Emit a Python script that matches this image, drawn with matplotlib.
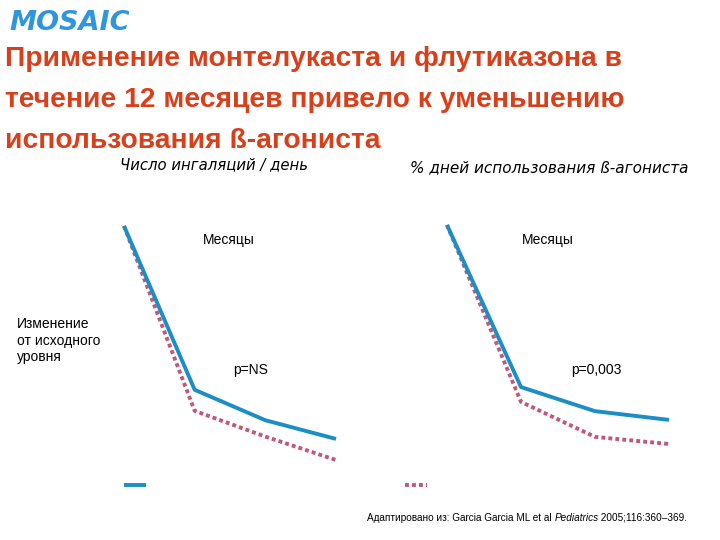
import matplotlib
matplotlib.use("Agg")
import matplotlib.pyplot as plt
from matplotlib.lines import Line2D

# months as plotted (equal steps)
months = [0, 1, 2, 3]

# change from baseline, inhalations per day
inh_montelukast = [0.0, -0.70, -0.83, -0.91]
inh_fluticasone = [0.0, -0.79, -0.90, -1.00]

# change from baseline, % days with beta-agonist use
days_montelukast = [0.0, -29.6, -34.0, -35.6]
days_fluticasone = [0.0, -32.3, -38.7, -40.0]

title = ("Применение монтелукаста и флутиказона в\n"
         "течение 12 месяцев привело к уменьшению\n"
         "использования ß-агониста")

BLUE = "#1b8ec4"
ROSE = "#c0587a"
TITLE_RED = "#d8401c"
LW = 2.8

W, H = 720, 540
fig = plt.figure(figsize=(7.2, 5.4), dpi=100)


def px_axes(x0, y0, x1, y1):
    # axes box from pixel corners (top-left origin)
    return fig.add_axes([x0 / W, 1 - y1 / H, (x1 - x0) / W, (y1 - y0) / H])


def bare(ax):
    for s in ax.spines.values():
        s.set_visible(False)
    ax.set_xticks([])
    ax.set_yticks([])
    ax.patch.set_alpha(0)


ax1 = px_axes(124, 226, 336, 460)
ax1.plot(months, inh_montelukast, color=BLUE, lw=LW, clip_on=False,
         solid_capstyle="butt", zorder=3)
ax1.plot(months, inh_fluticasone, color=ROSE, lw=LW, ls=(0, (1, 0.8)),
         clip_on=False, zorder=2)
ax1.set_xlim(0, 3)
ax1.set_ylim(-1.0, 0)
bare(ax1)

ax2 = px_axes(447, 225, 669, 444)
ax2.plot(months, days_montelukast, color=BLUE, lw=LW, clip_on=False,
         solid_capstyle="butt", zorder=3)
ax2.plot(months, days_fluticasone, color=ROSE, lw=LW, ls=(0, (1, 0.8)),
         clip_on=False, zorder=2)
ax2.set_xlim(0, 3)
ax2.set_ylim(-40, 0)
bare(ax2)

sans = "Liberation Sans"

# logo
fig.text(9 / W, 1 - 23 / H, "MOSAIC", color="#2f95dc", fontsize=19.5,
         fontweight="heavy", fontstyle="italic", family="DejaVu Sans",
         va="center", ha="left")

fig.text(5 / W, 1 - 46 / H, title, color=TITLE_RED, fontsize=20.3,
         fontweight="bold", family=sans, va="top", ha="left", linespacing=1.76)

fig.text(120 / W, 1 - 165 / H, "Число ингаляций / день", fontsize=10.7,
         fontstyle="italic", family="DejaVu Sans", va="center", ha="left")
fig.text(410 / W, 1 - 168 / H, "% дней использования ß-агониста", fontsize=11,
         fontstyle="italic", family="DejaVu Sans", va="center", ha="left")

fig.text(229 / W, 1 - 240 / H, "Месяцы", fontsize=10, family=sans,
         ha="center", va="center")
fig.text(548 / W, 1 - 240 / H, "Месяцы", fontsize=10, family=sans,
         ha="center", va="center")
fig.text(251 / W, 1 - 370 / H, "p=NS", fontsize=10, family=sans,
         ha="center", va="center")
fig.text(596 / W, 1 - 370 / H, "p=0,003", fontsize=10, family=sans,
         ha="center", va="center")

fig.text(17 / W, 1 - 317 / H, "Изменение\nот исходного\nуровня", fontsize=10,
         family=sans, ha="left", va="top", linespacing=1.25)

# legend swatches (labels are absent on the slide)
fig.add_artist(Line2D([124 / W, 146 / W], [1 - 485 / H, 1 - 485 / H],
                      color=BLUE, lw=LW, solid_capstyle="butt"))
fig.add_artist(Line2D([405 / W, 427 / W], [1 - 485 / H, 1 - 485 / H],
                      color=ROSE, lw=LW, ls=(0, (1, 0.8))))

# source note with italic journal name
fig.canvas.draw()
r = fig.canvas.get_renderer()
x = 367
parts = [("Адаптировано из: Garcia Garcia ML et al ", "normal"),
         ("Pediatrics", "italic"),
         (" 2005;116:360–369.", "normal")]
for s, st in parts:
    t = fig.text(x / W, 1 - 518 / H, s, fontsize=7.2, family=sans,
                 fontstyle=st, ha="left", va="center")
    x += t.get_window_extent(r).width

fig.savefig("out.png", dpi=100)
